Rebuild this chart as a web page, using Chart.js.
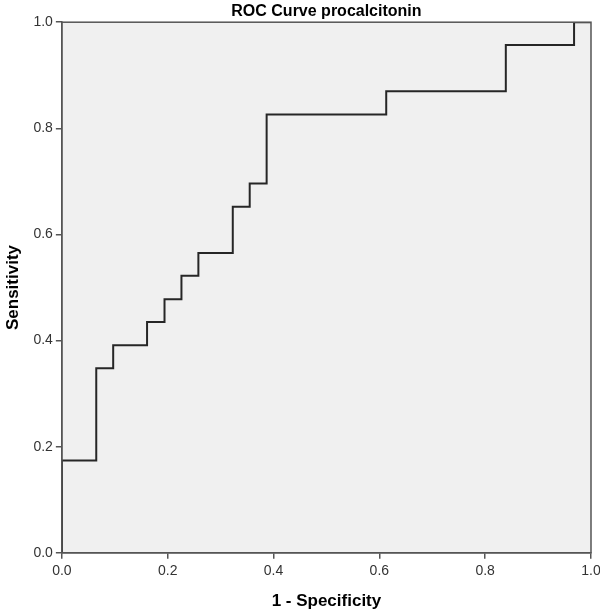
<!DOCTYPE html>
<html>
<head>
<meta charset="utf-8">
<script src="https://cdn.jsdelivr.net/npm/chart.js@4"></script>
<style>
  html, body { margin: 0; padding: 0; background: #fff; }
  #wrap { width: 600px; height: 612px; }
</style>
</head>
<body>
<div id="wrap"><canvas id="rocChart" width="600" height="612"></canvas></div>
<script>
// ROC points (1 - specificity, sensitivity)
const falsePosRate = [0, 0, 0.065, 0.097, 0.161, 0.194, 0.226, 0.258, 0.323, 0.355, 0.387, 0.613, 0.839, 0.968, 1];
const sensitivity  = [0, 0.174, 0.348, 0.391, 0.435, 0.478, 0.522, 0.565, 0.652, 0.696, 0.826, 0.870, 0.957, 1.0, 1.0];
const tickValues = [0, 0.2, 0.4, 0.6, 0.8, 1.0];

const rocPoints = falsePosRate.map((x, i) => ({ x: x, y: sensitivity[i] }));

// grey plot background + frame round the chart area
const plotFrame = {
  id: "plotFrame",
  afterLayout(chart) {
    // centre the main title over the plot, not the whole canvas
    const t = chart.titleBlock;
    if (t) {
      t.left = chart.chartArea.left;
      t.right = chart.chartArea.right;
      t.width = t.right - t.left;
    }
  },
  beforeDraw(chart) {
    const { ctx, chartArea: a } = chart;
    ctx.save();
    ctx.fillStyle = "#f0f0f0";
    ctx.fillRect(a.left, a.top, a.right - a.left, a.bottom - a.top);
    ctx.restore();
  },
  afterDraw(chart) {
    const { ctx, chartArea: a } = chart;
    ctx.save();
    ctx.strokeStyle = "#555";
    ctx.lineWidth = 1.5;
    ctx.strokeRect(a.left, a.top, a.right - a.left, a.bottom - a.top);
    ctx.restore();
  }
};

const tickFont = { family: "'Liberation Sans', Arial, sans-serif", size: 14 };
const titleFont = { family: "'Liberation Sans', Arial, sans-serif", size: 16, weight: "bold" };
const axisTitleFont = { family: "'Liberation Sans', Arial, sans-serif", size: 17, weight: "bold" };

new Chart("rocChart", {
  type: "line",
  data: {
    datasets: [{
      label: "procalcitonin",
      data: rocPoints,
      stepped: true,
      borderColor: "#262626",
      borderWidth: 2,
      pointRadius: 0,
      fill: false
    }]
  },
  options: {
    responsive: false,
    animation: false,
    layout: { padding: { top: 2, right: 9, bottom: 0, left: 3 } },
    plugins: {
      legend: { display: false },
      tooltip: { enabled: false },
      title: {
        display: true,
        text: "ROC Curve procalcitonin",
        color: "#000",
        font: titleFont,
        padding: { top: 0, bottom: 1 }
      }
    },
    scales: {
      x: {
        type: "linear",
        min: 0,
        max: 1,
        afterBuildTicks: axis => { axis.ticks = tickValues.map(v => ({ value: v })); },
        // let the last label run to the canvas edge, as in the original
        afterFit: axis => { axis.paddingRight = 0; },
        ticks: { color: "#333", font: tickFont, padding: 4, callback: v => v.toFixed(1), maxRotation: 0 },
        grid: { drawOnChartArea: false, drawTicks: true, tickLength: 6, color: "#555", lineWidth: 1.5 },
        border: { color: "#555", width: 1.5 },
        title: { display: true, text: "1 - Specificity", color: "#000", font: axisTitleFont, padding: { top: 8, bottom: 0 } }
      },
      y: {
        type: "linear",
        min: 0,
        max: 1,
        afterBuildTicks: axis => { axis.ticks = tickValues.map(v => ({ value: v })); },
        ticks: { color: "#333", font: tickFont, padding: 3, callback: v => v.toFixed(1) },
        grid: { drawOnChartArea: false, drawTicks: true, tickLength: 6, color: "#555", lineWidth: 1.5 },
        border: { color: "#555", width: 1.5 },
        title: { display: true, text: "Sensitivity", color: "#000", font: axisTitleFont, padding: { top: 0, bottom: 7 } }
      }
    }
  },
  plugins: [plotFrame]
});
</script>
</body>
</html>
